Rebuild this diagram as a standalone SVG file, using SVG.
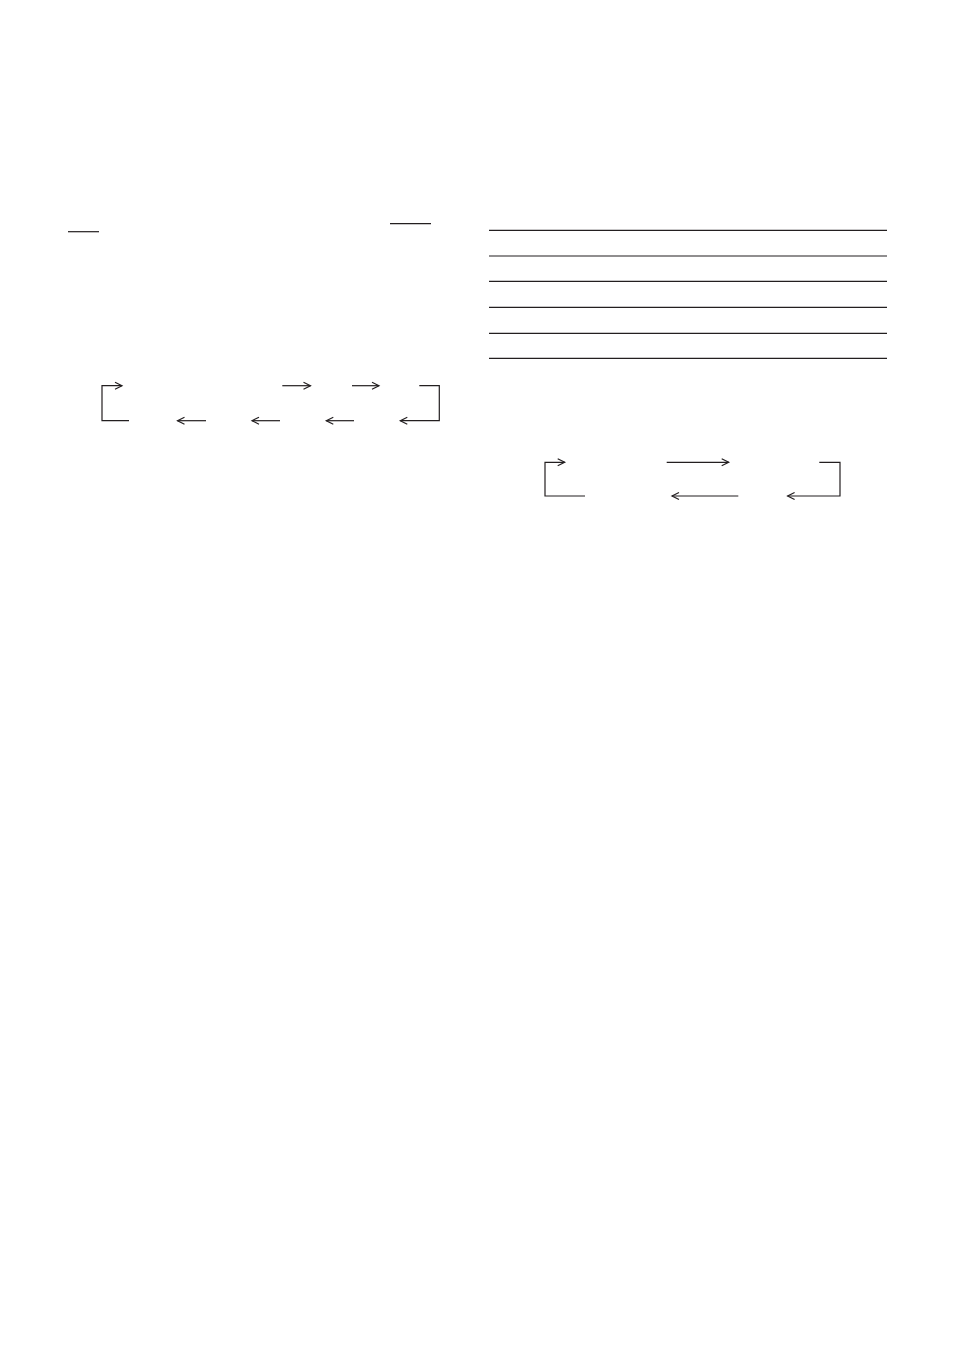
<svg xmlns="http://www.w3.org/2000/svg" width="954" height="1348" viewBox="0 0 954 1348">
<style>
.ln{fill:none;stroke:#231f20;stroke-width:1.2}
.ar{fill:none;stroke:#231f20;stroke-width:1.2;marker-end:url(#ah)}
</style>
<defs>
<marker id="ah" markerUnits="userSpaceOnUse" markerWidth="10" markerHeight="10" viewBox="-8 -5 10 10" refX="0" refY="0" orient="auto">
<path d="M-7,-3.5 L0,0 L-7,3.5" fill="none" stroke="#231f20" stroke-width="1.2"/>
</marker>
</defs>
<rect width="954" height="1348" fill="#fff"/>
<g id="rules">
<line class="ln" x1="390" y1="223.7" x2="431" y2="223.7"/>
<line class="ln" x1="68" y1="231.7" x2="99" y2="231.7"/>
<line class="ln" x1="489" y1="230.3" x2="887" y2="230.3"/>
<line class="ln" x1="489" y1="256" x2="887" y2="256"/>
<line class="ln" x1="489" y1="281.3" x2="887" y2="281.3"/>
<line class="ln" x1="489" y1="307.3" x2="887" y2="307.3"/>
<line class="ln" x1="489" y1="333.3" x2="887" y2="333.3"/>
<line class="ln" x1="489" y1="358.3" x2="887" y2="358.3"/>
</g>
<g id="connectors">
<path class="ar" d="M129,420.7 H102 V385.7 H122"/>
<path class="ar" d="M282.3,385.7 H310.5"/>
<path class="ar" d="M352,385.7 H379"/>
<path class="ar" d="M419.3,385.7 H439.3 V420.7 H400.3"/>
<path class="ar" d="M206,420.7 H177.5"/>
<path class="ar" d="M280,420.7 H252"/>
<path class="ar" d="M354,420.7 H326.3"/>
<path class="ar" d="M585,496 H545 V462.3 H564.7"/>
<path class="ar" d="M666.7,462.3 H728.7"/>
<path class="ar" d="M738.3,496 H672"/>
<path class="ar" d="M819.3,462.3 H840 V496 H787.6"/>
</g>
</svg>
